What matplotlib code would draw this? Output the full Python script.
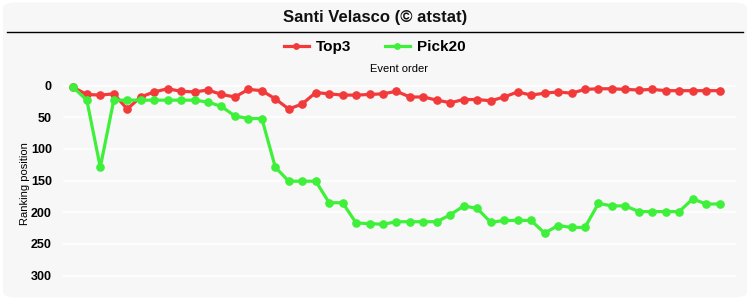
import matplotlib
matplotlib.use("Agg")
import matplotlib.pyplot as plt
from matplotlib.patches import FancyBboxPatch
from matplotlib.lines import Line2D
import numpy as np

title = "Santi Velasco (© atstat)"
series_names = ["Top3", "Pick20"]
top3 = [3, 14, 15, 13, 37, 18, 10, 5, 9, 10, 7, 14, 18, 6, 8, 21, 37, 29, 11, 13,
        15, 15, 14, 13, 9, 18, 18, 23, 27, 22, 22, 24, 18, 10, 15, 12, 10, 12, 6, 5,
        5, 6, 7, 6, 8, 8, 8, 8, 8]
pick20 = [3, 23, 129, 23, 23, 23, 23, 23, 23, 23, 26, 33, 48, 52, 52, 129, 151, 151, 151, 185,
          185, 217, 218, 219, 215, 215, 215, 215, 204, 190, 194, 216, 213, 213, 213, 233, 221, 224, 224, 186,
          190, 190, 199, 199, 199, 199, 179, 187, 187]
yticks = [0, 50, 100, 150, 200, 250, 300]

RED = "#f23a3a"
GREEN = "#3ef03a"
NARROW = ["Liberation Sans Narrow", "Liberation Sans", "DejaVu Sans"]
SANS = ["Liberation Sans", "DejaVu Sans"]

fig = plt.figure(figsize=(7.5, 3), dpi=100)
fig.patch.set_facecolor("white")
card = FancyBboxPatch((0.004, 0.008), 0.992, 0.984, boxstyle="round,pad=0,rounding_size=0.02",
                      transform=fig.transFigure, facecolor="#f7f7f7", edgecolor="none", zorder=-10)
fig.patches.append(card)

fig.text(0.5, 0.943, title, ha="center", va="center", fontsize=12, fontweight="bold",
         family=NARROW, color="#111111")
fig.add_artist(Line2D([0.009, 0.991], [0.893, 0.893], transform=fig.transFigure,
                      color="black", lw=1.0))

ax = fig.add_axes([0.084, 0.033, 0.897, 0.707])
ax.set_zorder(5)
ax.set_facecolor("#f7f7f7")
x = np.arange(len(top3))
ax.plot(x, top3, color=RED, lw=2.3, marker="o", markersize=5.2, label=series_names[0], zorder=3)
ax.plot(x, pick20, color=GREEN, lw=2.3, marker="o", markersize=5.2, label=series_names[1], zorder=3)

ax.set_xlim(-0.77, 49.2)
ax.set_ylim(323, -12)
ax.set_yticks(yticks)
ax.set_yticklabels([str(v) for v in yticks], fontsize=9, fontweight="bold", family=SANS)
ax.set_xticks([])
ax.tick_params(axis="y", length=0, pad=8)
ax.grid(axis="y", color="white", lw=1.2)
ax.set_axisbelow(True)
for s in ax.spines.values():
    s.set_visible(False)
ax.set_ylabel("Ranking position", fontsize=8, family=SANS, labelpad=1)
ax.set_title("Event order", fontsize=8, family=SANS, pad=4)

leg = fig.legend(handles=ax.get_lines(), labels=series_names, loc="center",
                 bbox_to_anchor=(0.5, 0.843), ncol=2, frameon=False,
                 prop={"family": NARROW, "weight": "bold", "size": 11},
                 handlelength=1.6, columnspacing=2.2, handletextpad=0.5, markerscale=0.75)

fig.savefig("out.png", dpi=100, facecolor=fig.get_facecolor())
